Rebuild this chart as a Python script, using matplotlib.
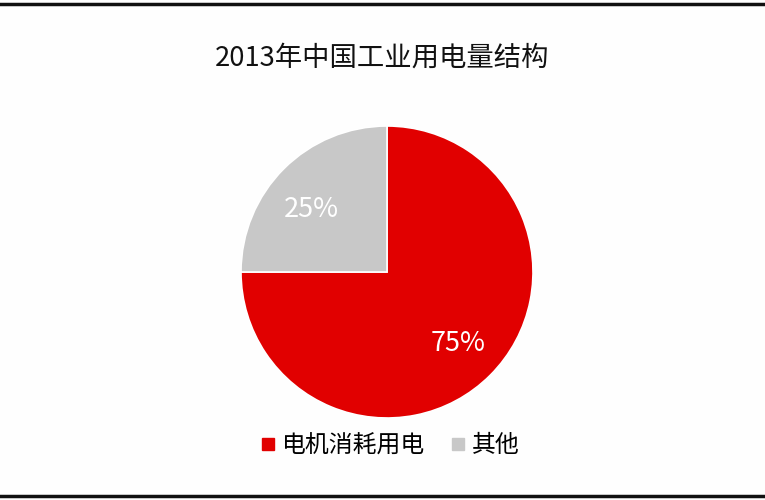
import matplotlib
matplotlib.use("Agg")
import matplotlib.pyplot as plt
from matplotlib.lines import Line2D

plt.rcParams['font.family'] = ['Noto Sans CJK SC', 'DejaVu Sans']

title = "2013年中国工业用电量结构"
labels = ["电机消耗用电", "其他"]
values = [75, 25]
colors = ["#E10000", "#C8C8C8"]

fig = plt.figure(figsize=(7.65, 5.0), dpi=100)
fig.patch.set_facecolor("#FEFEFE")

# pie axes placed so the circle sits where it does in the picture
ax = fig.add_axes([241 / 765, 82 / 500, 292 / 765, 292 / 500])
wedges, texts, autotexts = ax.pie(
    values, colors=colors, startangle=90, counterclock=False,
    autopct="%d%%", pctdistance=0.69,
    wedgeprops=dict(edgecolor="white", linewidth=1.2),
    textprops=dict(color="white", fontsize=19.5),
)
autotexts[0].set_fontweight("medium")
# the small label sits a little lower in the original
x, y = autotexts[1].get_position()
autotexts[1].set_position((x - 0.03, y - 0.06))
ax.set_xlim(-1, 1)
ax.set_ylim(-1, 1)
ax.set_aspect("equal")

fig.text(0.5, 1 - 58 / 500, title, ha="center", va="center", fontsize=19.7, color="#111111")

handles = [Line2D([], [], marker="s", linestyle="none", markersize=9,
                  markerfacecolor=c, markeredgecolor=c) for c in colors]
fig.legend(handles, labels, loc="center", bbox_to_anchor=(0.508, 1 - 446 / 500),
           ncol=2, frameon=False, fontsize=17.2, handletextpad=0.15,
           columnspacing=0.9, handlelength=0.9)

# thick rules at top and bottom of the frame
fig.add_artist(Line2D([0, 1], [1 - 4 / 500, 1 - 4 / 500], color="#111111", linewidth=2.5))
fig.add_artist(Line2D([0, 1], [4 / 500, 4 / 500], color="#111111", linewidth=2.5))

fig.savefig("out.png", dpi=100, facecolor=fig.get_facecolor())
